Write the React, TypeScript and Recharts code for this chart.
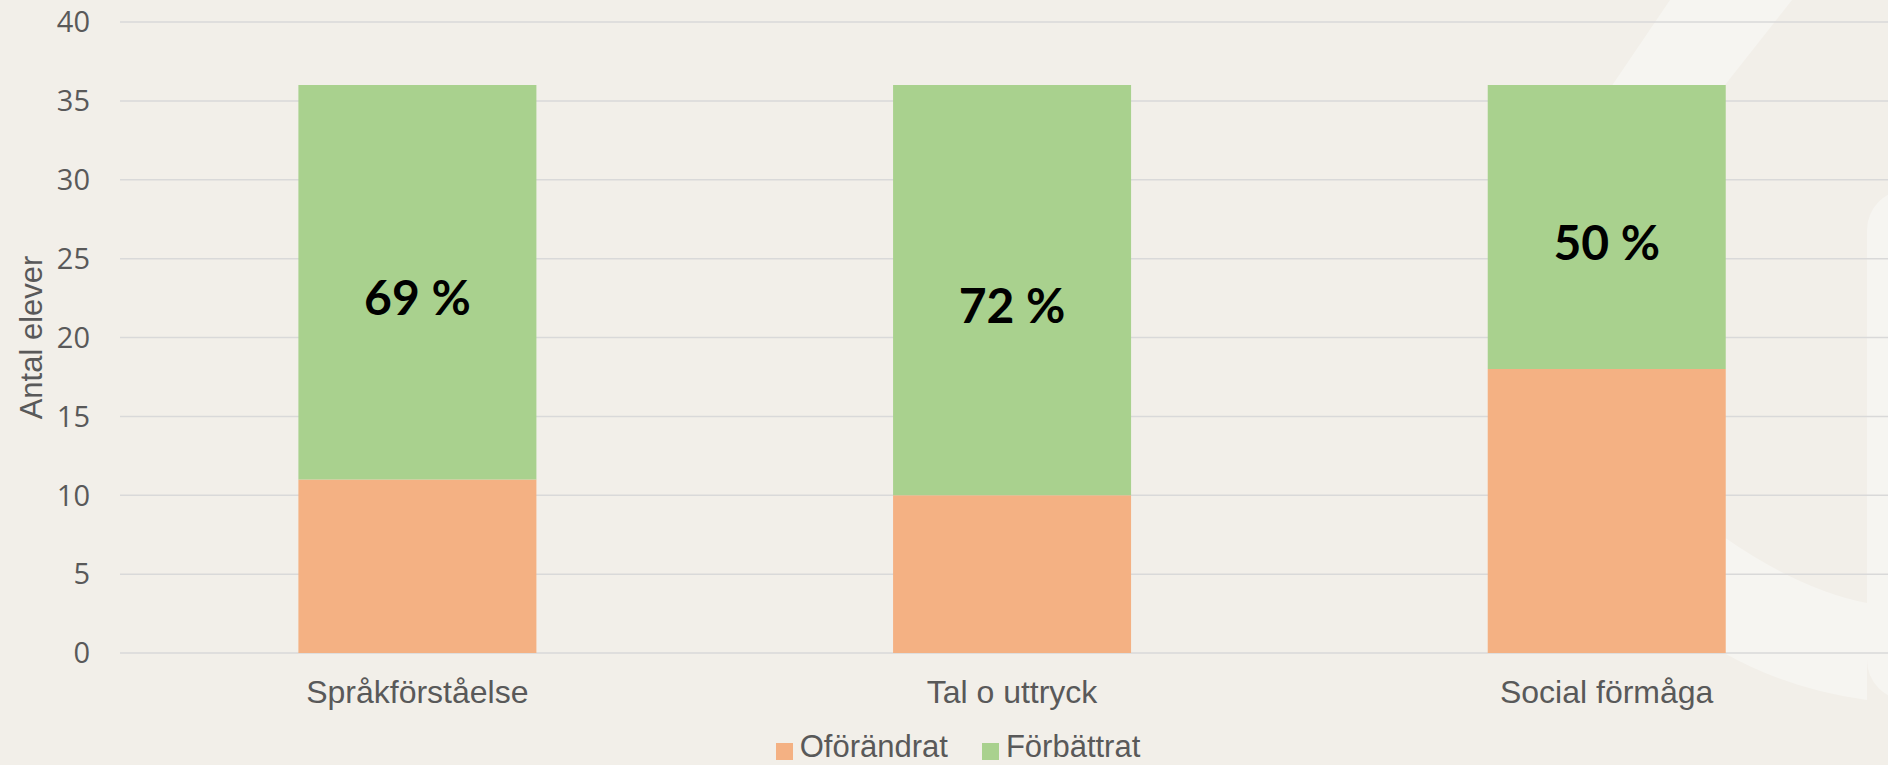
import { BarChart, Bar, XAxis, YAxis, CartesianGrid, Legend, LabelList } from "recharts";

const categories = ["Språkförståelse", "Tal o uttryck", "Social förmåga"];
const unchanged = [11, 10, 18];
const improved = [25, 26, 18];
const yTicks = [0, 5, 10, 15, 20, 25, 30, 35, 40];

const COLORS = {
  unchanged: "#F4B183",
  improved: "#A9D18E",
  text: "#595959",
  grid: "#D9D9D9",
  bg: "#F2EFE9",
  deco: "#F6F5F1",
};

const data = categories.map((name, i) => ({
  name,
  unchanged: unchanged[i],
  improved: improved[i],
  pct: Math.round((improved[i] / (improved[i] + unchanged[i])) * 100),
}));

const legendItems = [
  { label: "Oförändrat", color: COLORS.unchanged },
  { label: "Förbättrat", color: COLORS.improved },
];

const renderPct = (props: any) => {
  const { x, y, width, height, value } = props;
  return (
    <text
      x={Number(x) + Number(width) / 2}
      y={Number(y) + Number(height) / 2 + 14}
      textAnchor="middle"
      dominantBaseline="central"
      fill="#000"
      fontFamily="Lato, sans-serif"
      fontWeight={700}
      fontSize={48}
    >
      {value} %
    </text>
  );
};

const renderLegend = () => (
  <div
    style={{
      display: "flex",
      justifyContent: "center",
      height: 36,
      lineHeight: "36px",
      fontFamily: '"Liberation Sans", Arial, sans-serif',
      fontSize: 31,
      color: COLORS.text,
      paddingLeft: 12,
    }}
  >
    {legendItems.map((item, i) => (
      <div key={item.label} style={{ display: "flex", alignItems: "flex-start", marginRight: i === 0 ? 34 : 0 }}>
        <span style={{ width: 17, height: 17, background: item.color, marginTop: 14, marginRight: 7 }} />
        <span>{item.label}</span>
      </div>
    ))}
  </div>
);

export default function App() {
  return (
    <div
      style={{
        position: "absolute",
        top: 0,
        left: 0,
        width: 1888,
        height: 765,
        overflow: "hidden",
        background: COLORS.bg,
      }}
    >
      {/* faint background decoration */}
      <svg width={1888} height={765} style={{ position: "absolute", top: 0, left: 0 }}>
        <polygon points="1670,0 1792,0 1650,180 1548,180" fill={COLORS.deco} />
        <rect x={1867} y={190} width={80} height={510} rx={40} fill={COLORS.deco} />
        <path d="M1724,537 Q1800,590 1867,603 L1867,700 Q1790,690 1724,653 Z" fill={COLORS.deco} />
      </svg>
      <BarChart
        width={1904}
        height={765}
        data={data}
        barCategoryGap="30%"
        margin={{ top: 22, right: 0, left: 0, bottom: 0 }}
      >
        <CartesianGrid vertical={false} stroke={COLORS.grid} strokeWidth={1.5} />
        <XAxis
          dataKey="name"
          height={76}
          axisLine={false}
          tickLine={false}
          tickSize={0}
          tickMargin={27}
          tick={{ fill: COLORS.text, fontSize: 32, fontFamily: '"Liberation Sans", Arial, sans-serif' }}
        />
        <YAxis
          width={120}
          domain={[0, 40]}
          ticks={yTicks}
          axisLine={false}
          tickLine={false}
          tickSize={0}
          tickMargin={30}
          tick={{ fill: COLORS.text, fontSize: 29, fontFamily: '"Open Sans", sans-serif' }}
          label={{
            value: "Antal elever",
            angle: -90,
            position: "insideLeft",
            offset: 31,
            style: {
              textAnchor: "middle",
              fill: COLORS.text,
              fontSize: 31,
              fontFamily: '"Liberation Sans", Arial, sans-serif',
            },
          }}
        />
        <Legend verticalAlign="bottom" content={renderLegend} />
        <Bar dataKey="unchanged" name="Oförändrat" stackId="a" fill={COLORS.unchanged} isAnimationActive={false} />
        <Bar dataKey="improved" name="Förbättrat" stackId="a" fill={COLORS.improved} isAnimationActive={false}>
          <LabelList dataKey="pct" content={renderPct} />
        </Bar>
      </BarChart>
    </div>
  );
}
